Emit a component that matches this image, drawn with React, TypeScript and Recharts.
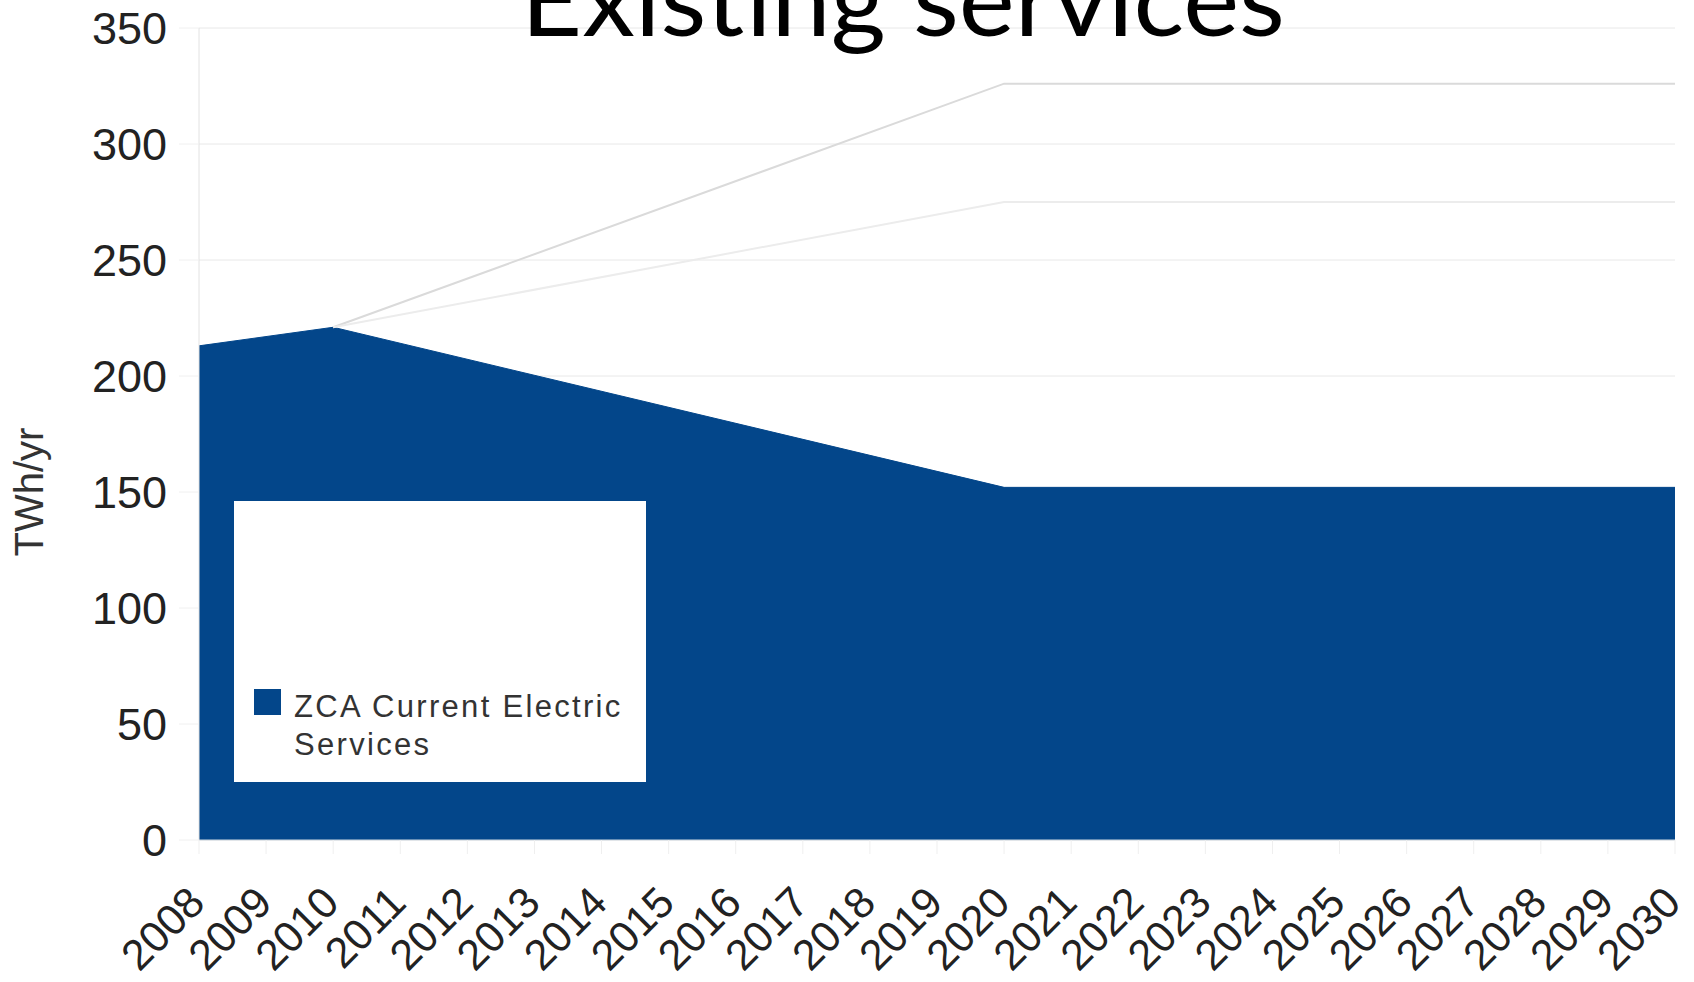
import { AreaChart, Area, Line, XAxis, YAxis, CartesianGrid, Legend, Label } from 'recharts'

const allYears = [2008, 2009, 2010, 2011, 2012, 2013, 2014, 2015, 2016, 2017, 2018, 2019, 2020, 2021, 2022, 2023, 2024, 2025, 2026, 2027, 2028, 2029, 2030]
const pointYears = [2008, 2010, 2020, 2030]
const zcaCurrent = [213, 221, 152, 152]
const upperScenario = [null, 221, 326, 326]
const lowerScenario = [null, 221, 275, 275]
const yTicks = [0, 50, 100, 150, 200, 250, 300, 350]

const data = pointYears.map((year, i) => ({
  year,
  zca: zcaCurrent[i],
  upper: upperScenario[i],
  lower: lowerScenario[i],
}))

const BLUE = '#03468a'
const FONT = '"Liberation Sans", Arial, sans-serif'

const YearTick = ({ x, y, payload }: any) => {
  const px = x + 8
  const py = y + 49
  return (
    <text x={px} y={py} transform={`rotate(-45, ${px}, ${py})`} textAnchor="end"
      fontSize={43} fill="#222" fontFamily={FONT}>
      {payload.value}
    </text>
  )
}

const yLabel = () => (
  <text x={43} y={492} transform="rotate(-90, 43, 492)" textAnchor="middle"
    fontSize={40} fill="#333" fontFamily={FONT}>
    TWh/yr
  </text>
)

const LegendBox = ({ payload }: any) => {
  const items = (payload || []).filter((p: any) => p.dataKey === 'zca')
  return (
    <div style={{ width: 412, height: 281, background: '#fff', position: 'relative' }}>
      {items.map((p: any) => (
        <div key={p.value}>
          <div style={{ position: 'absolute', left: 20, top: 188, width: 27, height: 26, background: BLUE }} />
          <div style={{
            position: 'absolute', left: 60, top: 187, width: 345, fontFamily: FONT, fontSize: 31,
            lineHeight: '38px', letterSpacing: 2.3, color: '#333',
          }}>{p.value}</div>
        </div>
      ))}
    </div>
  )
}

export default function App() {
  return (
    <div style={{ position: 'absolute', left: 0, top: 0, width: 1694, height: 982, overflow: 'hidden', background: '#fff' }}>
      <AreaChart width={1694} height={982} data={data} margin={{ top: 28, right: 19, left: 0, bottom: 0 }}>
        <CartesianGrid vertical={false} stroke="#e8e8e8" />
        <XAxis dataKey="year" type="number" domain={[2008, 2030]} ticks={allYears} interval={0}
          height={142} tickSize={14} tickLine={{ stroke: '#efefef' }} axisLine={{ stroke: '#cfd8e0' }}
          tick={<YearTick />} />
        <YAxis domain={[0, 350]} ticks={yTicks} width={199} tickSize={20} tickMargin={12}
          tickLine={{ stroke: '#f0f0f0' }} axisLine={{ stroke: '#e2e2e2' }}
          tick={{ fontSize: 45, fill: '#222', fontFamily: FONT }}>
          <Label content={yLabel} />
        </YAxis>
        <YAxis yAxisId="right" orientation="right" domain={[0, 350]} width={0} tick={false}
          tickLine={false} axisLine={{ stroke: '#e2e2e2' }} />
        <Area type="linear" dataKey="zca" name="ZCA Current Electric Services" fill={BLUE} fillOpacity={1}
          stroke={BLUE} strokeWidth={1} isAnimationActive={false} />
        <Line type="linear" dataKey="upper" stroke="#dadada" strokeWidth={2} dot={false}
          legendType="none" isAnimationActive={false} />
        <Line type="linear" dataKey="lower" stroke="#ececec" strokeWidth={2} dot={false}
          legendType="none" isAnimationActive={false} />
        <Legend layout="vertical" align="center" verticalAlign="middle" content={<LegendBox />}
          wrapperStyle={{ left: 234, top: 501, width: 412, height: 281 }} />
      </AreaChart>
      <svg width={1694} height={120} style={{ position: 'absolute', left: 0, top: 0, pointerEvents: 'none' }}>
        <text x={521} y={36} fontSize={100} fontFamily="Lato, 'Open Sans', sans-serif" fill="#000"
          textLength={764} lengthAdjust="spacingAndGlyphs">
          Existing services
        </text>
      </svg>
    </div>
  )
}
